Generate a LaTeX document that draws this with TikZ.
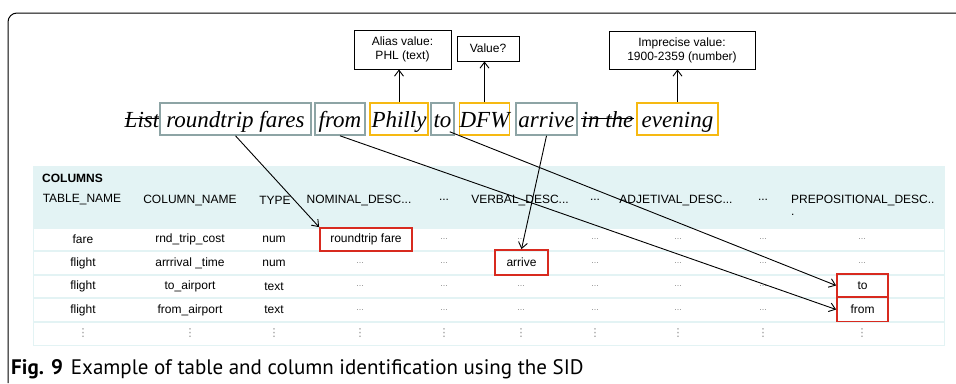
\documentclass[tikz,border=0pt]{standalone}
\usepackage{fontspec}
\setmainfont{Liberation Serif}
\setsansfont{Liberation Sans}
\newfontfamily\capfont{PT Sans}
\newfontfamily\dotfont{DejaVu Sans}
\usepackage{xcolor}
\usetikzlibrary{arrows.meta, positioning}

\definecolor{wordgrey}{HTML}{8DA4A5}
\definecolor{wordgold}{HTML}{F6B912}
\definecolor{hitred}{HTML}{D82A1F}
\definecolor{headcyan}{HTML}{E3F3F4}
\definecolor{dotgrey}{HTML}{8C8C8C}

\tikzset{
	word/.style   = {draw=wordgrey, line width=1.6pt, inner sep=0pt, minimum height=32pt,
	                 text height=22pt, text depth=6pt, font=\fontsize{23}{23}\selectfont\itshape},
	gold/.style   = {word, draw=wordgold},
	struck/.style = {inner sep=0pt, minimum height=32pt, text height=22pt, text depth=6pt,
	                 font=\fontsize{23}{23}\selectfont\itshape},
	note/.style   = {draw, line width=0.9pt, align=center, inner sep=1pt,
	                 font=\sffamily\fontsize{12}{14}\selectfont},
	head/.style   = {inner sep=0pt, font=\sffamily\fontsize{12}{12}\selectfont},
	cell/.style   = {inner sep=0pt, font=\sffamily\fontsize{12}{12}\selectfont},
	hit/.style    = {cell, draw=hitred, line width=1.8pt},
	hdots/.style  = {inner sep=0pt, text=dotgrey, font=\sffamily\fontsize{9}{9}\selectfont},
	vdot/.style   = {inner sep=0pt, text=dotgrey, font=\dotfont\fontsize{11}{11}\selectfont}
}

\begin{document}
\begin{tikzpicture}[x=1pt, y=-1pt, > = {Straight Barb[length=6pt, width=9pt]}]
	\useasboundingbox (0,0) rectangle (956,383);

	% frame of the figure
	\draw [line width=1pt, rounded corners=9pt] (8,383) -- (8,13) -- (956,13);

	% the question, word by word
	\node [struck] (list) at (142,119) {List};
	\draw ([yshift=1pt]list.west) -- ([yshift=1pt]list.east);
	\node [struck] (inthe) at (607.5,119) {in the};
	\draw ([yshift=1pt]inthe.west) -- ([yshift=1pt]inthe.east);

	\node [word, minimum width=151pt] (rt)     at (235.5,119) {roundtrip fares};
	\node [word, minimum width=50pt]  (from)   at (340,119)   {from};
	\node [gold, minimum width=58pt]  (philly) at (399,119)   {Philly};
	\node [word, minimum width=23pt]  (to)     at (442.5,119) {to};
	\node [gold, minimum width=49pt]  (dfw)    at (484.5,119) {DFW};
	\node [word, minimum width=61pt]  (arrive) at (546.5,119) {arrive};
	\node [gold, minimum width=81pt]  (eve)    at (677.5,119) {evening};

	% values found for the gold words
	\node [note, minimum width=97pt,  minimum height=39pt] (alias) at (402.5,49.5) {Alias value:\\PHL (text)};
	\node [note, minimum width=62pt,  minimum height=25pt] (val)   at (488,48.5)   {Value?};
	\node [note, minimum width=146pt, minimum height=38pt] (impr)  at (682,50)     {Imprecise value:\\1900-2359 (number)};

	\draw [->, line width=0.9pt] (philly.north) -- (philly.north |- alias.south);
	\draw [->, line width=0.9pt] (dfw.north) -- (dfw.north |- val.south);
	\draw [->, line width=0.9pt] (eve.north) -- (eve.north |- impr.south);

	% table COLUMNS
	\fill [headcyan] (33,166) rectangle (945,346);
	\foreach \t/\b in {229/250, 252/274, 276/297, 299/321, 323/345}
		\fill [white] (34,\t) rectangle (944,\b);

	\node [head, anchor=west] (cols) at (42,178) {\bfseries COLUMNS};
	\node [head] (h1) at (82,200)  {TABLE\_NAME};
	\node [head] (h2) at (190,200) {COLUMN\_NAME};
	\node [head] (h3) at (275,200) {TYPE};
	\node [head] (h4) at (359,200) {NOMINAL\_DESC...};
	\node [head] (h5) at (444,200) {...};
	\node [head] (h6) at (520,200) {VERBAL\_DESC...};
	\node [head] (h7) at (595,200) {...};
	\node [head] (h8) at (676,200) {ADJETIVAL\_DESC...};
	\node [head] (h9) at (763,200) {...};
	\node [head, anchor=west] (h10) at (791,200) {PREPOSITIONAL\_DESC..};
	\node [head, anchor=west] (h10b) at (791,215) {.};

	\node [cell] (tab1) at (83,239.5)  {fare};
	\node [cell] (tab2) at (83,263)    {flight};
	\node [cell] (tab3) at (83,286.5)  {flight};
	\node [cell] (tab4) at (83,310)    {flight};
	\node [cell] (col1) at (190,239.5) {rnd\_trip\_cost};
	\node [cell] (col2) at (190,263)   {arrrival \_time};
	\node [cell] (col3) at (190,286.5) {to\_airport};
	\node [cell] (col4) at (190,310)   {from\_airport};
	\node [cell] (typ1) at (274,239.5) {num};
	\node [cell] (typ2) at (274,263)   {num};
	\node [cell] (typ3) at (274,286.5) {text};
	\node [cell] (typ4) at (274,310)   {text};

	\node [hit, minimum width=92pt, minimum height=23pt] (rtf)  at (366,239.5) {roundtrip fare};
	\node [hit, minimum width=53pt, minimum height=25pt] (arr)  at (521.5,262.5) {arrive};
	\node [hit, minimum width=51pt, minimum height=23pt] (toc)  at (862.5,285.5) {to};
	\node [hit, minimum width=51pt, minimum height=24pt] (frc)  at (862.5,309.5) {from};

	% empty cells
	\foreach \c/\n in {444/e, 595/g, 678/h, 763/i}
		\foreach \y [count=\r] in {239.5, 263, 286.5, 310}
			\node [hdots] (\n\r) at (\c,\y) {...};
	\node [hdots] (d2) at (360,263)   {...};
	\node [hdots] (d3) at (360,286.5) {...};
	\node [hdots] (d4) at (360,310)   {...};
	\node [hdots] (f1) at (521,239.5) {...};
	\node [hdots] (f3) at (521,286.5) {...};
	\node [hdots] (f4) at (521,310)   {...};
	\node [hdots] (j1) at (862,239.5) {...};
	\node [hdots] (j2) at (862,263)   {...};

	\foreach \c [count=\i] in {83, 190, 274, 360, 444, 521, 595, 678, 763, 862}
		\node [vdot] (vd\i) at (\c,333.5) {⋮};

	% words to columns
	\draw [->, line width=0.9pt] (rt.south) -- (rtf.north west);
	\draw [->, line width=0.9pt] (from.south) -- (frc.west);
	\draw [->, line width=0.9pt] ([xshift=-5pt, yshift=4pt]to.south east) -- (toc.west);
	\draw [->, line width=0.9pt] (arrive.south) -- (arr.north);

	\node [anchor=base west, inner sep=0pt, font=\capfont\fontsize{21}{21}\selectfont] (cap) at (11,374)
		{\textbf{Fig. 9}\hspace{8pt}Example of table and column identification using the SID};
\end{tikzpicture}
\end{document}
